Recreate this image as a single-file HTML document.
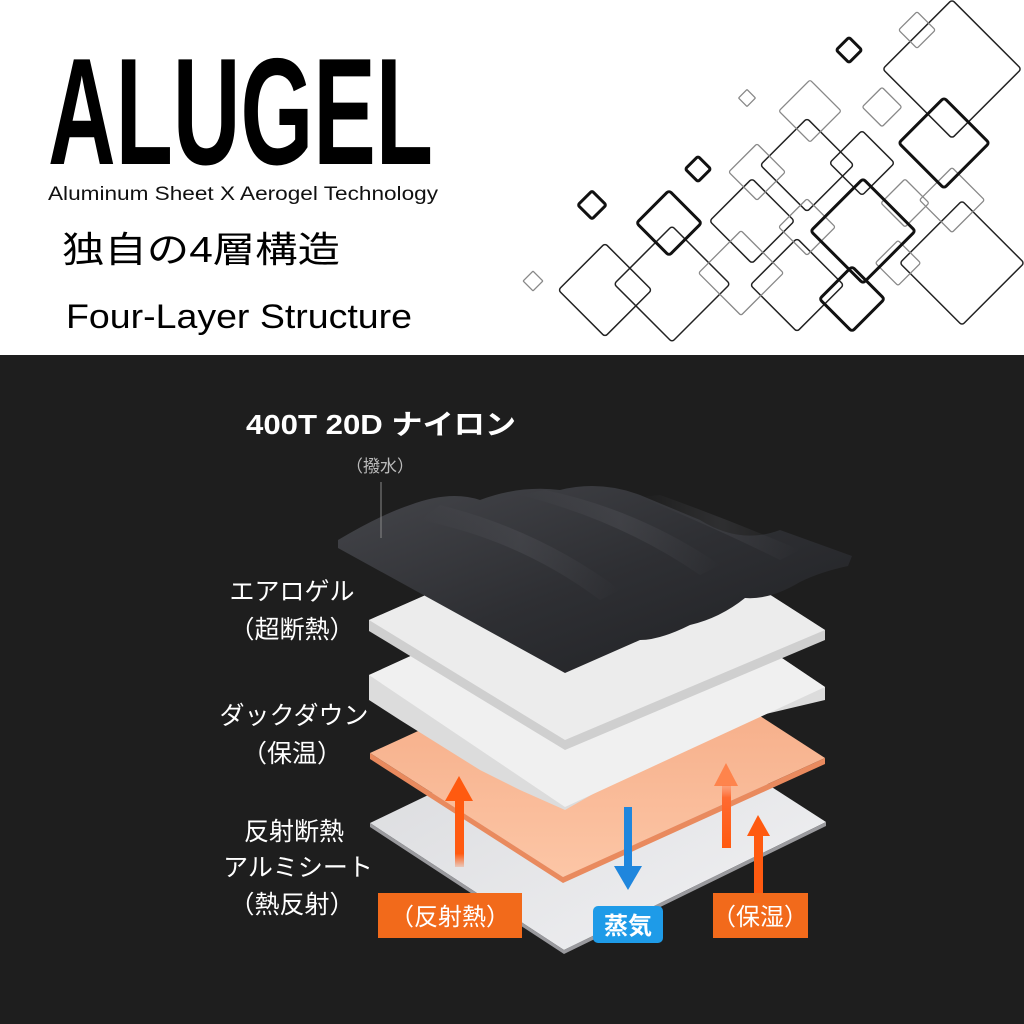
<!DOCTYPE html>
<html><head><meta charset="utf-8"><style>
html,body{margin:0;padding:0;width:1024px;height:1024px;overflow:hidden;background:#fff}
svg{display:block}
</style></head><body>
<svg width="1024" height="1024" viewBox="0 0 1024 1024" xmlns="http://www.w3.org/2000/svg">
<defs>
<linearGradient id="blk" x1="0" y1="0" x2="1" y2="1">
<stop offset="0" stop-color="#45464b"/><stop offset="0.5" stop-color="#2e2f33"/><stop offset="1" stop-color="#1f2023"/></linearGradient>
<linearGradient id="fold" x1="0" y1="0" x2="1" y2="0">
<stop offset="0" stop-color="#55565c" stop-opacity="0"/><stop offset="0.5" stop-color="#55565c" stop-opacity="0.6"/><stop offset="1" stop-color="#55565c" stop-opacity="0"/></linearGradient>
<linearGradient id="org" x1="0" y1="0" x2="0" y2="1">
<stop offset="0" stop-color="#f4a57e"/><stop offset="1" stop-color="#fcc6a6"/></linearGradient>
<linearGradient id="alu" x1="0" y1="0" x2="1" y2="1">
<stop offset="0" stop-color="#d8d9dc"/><stop offset="1" stop-color="#f2f2f4"/></linearGradient>
<linearGradient id="arrU" x1="0" y1="1" x2="0" y2="0">
<stop offset="0" stop-color="#ff5a10" stop-opacity="0.2"/><stop offset="0.2" stop-color="#ff5a10"/><stop offset="1" stop-color="#ff5a10"/></linearGradient>
<linearGradient id="arrU2" x1="0" y1="1" x2="0" y2="0">
<stop offset="0" stop-color="#ff5a10"/><stop offset="0.8" stop-color="#ff6a30"/><stop offset="1" stop-color="#ff8a60" stop-opacity="0.5"/></linearGradient>
</defs>

<text x="48" y="164" font-family="Liberation Sans, sans-serif" font-size="152" font-weight="bold" textLength="385" lengthAdjust="spacingAndGlyphs" fill="#000">ALUGEL</text>
<text x="48" y="200" font-family="Liberation Sans, sans-serif" font-size="19" textLength="390" lengthAdjust="spacingAndGlyphs" fill="#111">Aluminum Sheet X Aerogel Technology</text>
<text x="62" y="262" font-family="Liberation Sans, 'Noto Sans CJK JP', sans-serif" font-size="36" textLength="278" lengthAdjust="spacingAndGlyphs" fill="#000">独自の4層構造</text>
<text x="66" y="328" font-family="Liberation Sans, sans-serif" font-size="34" textLength="346" lengthAdjust="spacingAndGlyphs" fill="#000">Four-Layer Structure</text>

<g fill="none" stroke-linejoin="round">
<g stroke="#222" stroke-width="1.5">
<rect x="-49" y="-49" width="98" height="98" rx="3" transform="translate(952,69) rotate(45)"/>
<rect x="-33" y="-33" width="66" height="66" rx="3" transform="translate(807,165) rotate(45)"/>
<rect x="-23" y="-23" width="46" height="46" rx="3" transform="translate(862,163) rotate(45)"/>
<rect x="-30" y="-30" width="60" height="60" rx="3" transform="translate(752,221) rotate(45)"/>
<rect x="-33" y="-33" width="66" height="66" rx="3" transform="translate(605,290) rotate(45)"/>
<rect x="-41" y="-41" width="82" height="82" rx="3" transform="translate(672,284) rotate(45)"/>
<rect x="-33" y="-33" width="66" height="66" rx="3" transform="translate(797,285) rotate(45)"/>
<rect x="-44" y="-44" width="88" height="88" rx="3" transform="translate(962,263) rotate(45)"/>
</g>
<g stroke="#888" stroke-width="1.3">
<rect x="-13" y="-13" width="26" height="26" rx="2" transform="translate(917,30) rotate(45)"/>
<rect x="-22" y="-22" width="44" height="44" rx="2" transform="translate(810,111) rotate(45)"/>
<rect x="-6" y="-6" width="12" height="12" rx="1" transform="translate(747,98) rotate(45)"/>
<rect x="-14" y="-14" width="28" height="28" rx="2" transform="translate(882,107) rotate(45)"/>
<rect x="-20" y="-20" width="40" height="40" rx="2" transform="translate(757,172) rotate(45)"/>
<rect x="-17" y="-17" width="34" height="34" rx="2" transform="translate(905,203) rotate(45)"/>
<rect x="-23" y="-23" width="46" height="46" rx="2" transform="translate(952,200) rotate(45)"/>
<rect x="-20" y="-20" width="40" height="40" rx="2" transform="translate(807,227) rotate(45)"/>
<rect x="-30" y="-30" width="60" height="60" rx="2" transform="translate(741,273) rotate(45)"/>
<rect x="-16" y="-16" width="32" height="32" rx="2" transform="translate(898,263) rotate(45)"/>
<rect x="-7" y="-7" width="14" height="14" rx="1" transform="translate(533,281) rotate(45)"/>
</g>
<g stroke="#111" stroke-width="3">
<rect x="-9" y="-9" width="18" height="18" rx="2" transform="translate(849,50) rotate(45)"/>
<rect x="-32" y="-32" width="64" height="64" rx="3" transform="translate(944,143) rotate(45)"/>
<rect x="-9" y="-9" width="18" height="18" rx="2" transform="translate(698,169) rotate(45)"/>
<rect x="-10" y="-10" width="20" height="20" rx="2" transform="translate(592,205) rotate(45)"/>
<rect x="-37" y="-37" width="74" height="74" rx="3" transform="translate(863,231) rotate(45)"/>
<rect x="-23" y="-23" width="46" height="46" rx="3" transform="translate(669,223) rotate(45)"/>
<rect x="-23" y="-23" width="46" height="46" rx="3" transform="translate(852,299) rotate(45)"/>
</g>
</g>

<rect x="0" y="355" width="1024" height="669" fill="#1e1e1e"/>

<polygon points="370,823 632,697 826,822 564,950" fill="url(#alu)"/>
<polygon points="370,823 564,950 826,822 826,826 564,954 370,827" fill="#9a9a9e"/>
<polygon points="370,753 632,633 825,758 563,877" fill="url(#org)"/>
<polygon points="370,753 563,877 825,758 825,764 563,883 370,759" fill="#e98a5e"/>
<polygon points="369,675 630,556 825,687 825,700 740,720 700,740 660,745 620,760 600,790 565,810 520,790 480,770 440,745 400,720 369,700" fill="#dcdcdc"/>
<polygon points="369,675 630,556 825,687 565,807" fill="#f0f0f0"/>
<polygon points="369,620 630,505 825,630 825,640 565,750 369,631" fill="#cfcfcf"/>
<polygon points="369,620 630,505 825,630 565,740" fill="#ececec"/>
<path d="M338,540 Q380,515 410,505 Q450,490 480,500 Q520,485 560,490 Q600,480 640,495 L700,520 Q740,545 780,530 L852,556 L848,566 Q820,572 800,582 Q770,600 745,598 Q720,618 690,625 Q660,640 640,640 L565,673 L338,548 Z" fill="url(#blk)"/>
<path d="M420,520 Q520,540 600,600 L620,590 Q540,530 440,505 Z" fill="url(#fold)" opacity="0.6"/>
<path d="M520,495 Q620,520 700,575 L720,565 Q640,510 545,490 Z" fill="url(#fold)" opacity="0.6"/>
<path d="M640,497 Q720,530 780,560 L800,550 Q730,520 660,495 Z" fill="url(#fold)" opacity="0.5"/>

<line x1="381" y1="482" x2="381" y2="538" stroke="#888" stroke-width="1"/>

<rect x="455" y="800" width="9" height="67" fill="url(#arrU)"/>
<polygon points="445,801 459,776 473,801" fill="#ff5a10"/>
<rect x="624" y="807" width="8" height="60" fill="#1f86dd"/>
<polygon points="614,866 628,890 642,866" fill="#1f86dd"/>
<rect x="722" y="785" width="9" height="63" fill="url(#arrU2)"/>
<polygon points="714,786 726,763 738,786" fill="#ff7a40" opacity="0.85"/>
<rect x="754" y="835" width="9" height="58" fill="#ff5a10"/>
<polygon points="747,836 758,815 770,836" fill="#ff5a10"/>

<g font-family="Liberation Sans, 'Noto Sans CJK JP', sans-serif" fill="#fff" text-anchor="middle">
<text x="381" y="434" font-size="28" font-weight="bold" textLength="270" lengthAdjust="spacingAndGlyphs">400T 20D ナイロン</text>
<text x="380" y="472" font-size="17" fill="#bbb">（撥水）</text>
<text x="292" y="600" font-size="25">エアロゲル</text>
<text x="292" y="638" font-size="25">（超断熱）</text>
<text x="294" y="724" font-size="25">ダックダウン</text>
<text x="292" y="762" font-size="25">（保温）</text>
<text x="294" y="840" font-size="25">反射断熱</text>
<text x="298" y="876" font-size="25">アルミシート</text>
<text x="292" y="913" font-size="25">（熱反射）</text>
</g>
<rect x="378" y="893" width="144" height="45" fill="#f26a1b"/>
<rect x="713" y="893" width="95" height="45" fill="#f26a1b"/>
<rect x="593" y="906" width="70" height="37" rx="5" fill="#1e9be8"/>
<g font-family="Liberation Sans, 'Noto Sans CJK JP', sans-serif" fill="#fff" text-anchor="middle" font-size="24">
<text x="450" y="925">（反射熱）</text>
<text x="760" y="925">（保湿）</text>
<text x="628" y="934" font-weight="bold">蒸気</text>
</g>
</svg>
</body></html>
